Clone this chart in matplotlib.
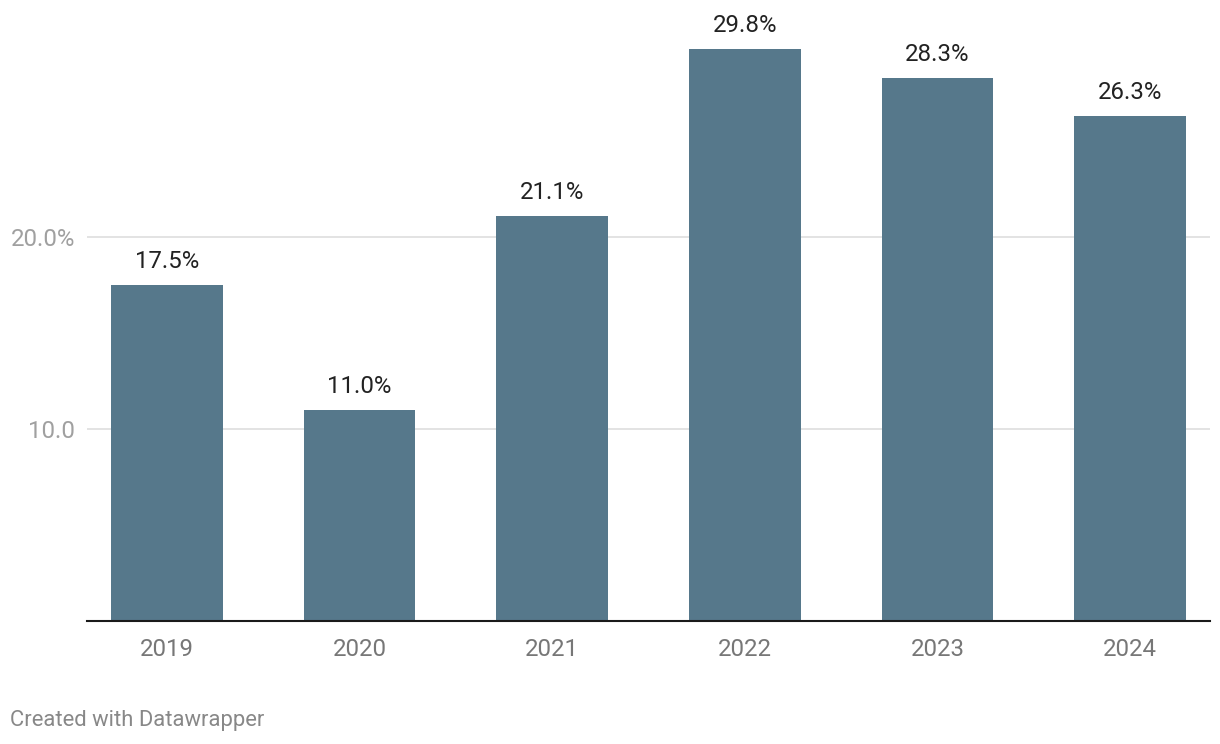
import matplotlib.pyplot as plt
import numpy as np

plt.rcParams['font.family'] = ['Roboto', 'DejaVu Sans']

years = ['2019', '2020', '2021', '2022', '2023', '2024']
values = [17.5, 11.0, 21.1, 29.8, 28.3, 26.3]
yticks = [10, 20]
ytick_labels = ['10.0', '20.0%']

fig = plt.figure(figsize=(12.2, 7.44), dpi=100)
# axes box in pixels: x 87..1210, y 6.6..621 (from top)
ax = fig.add_axes([87 / 1220, 123 / 744, (1210 - 87) / 1220, (621 - 6.6) / 744])

x = np.arange(len(years))
ax.bar(x, values, width=0.58, color='#56788b', zorder=2)

for xi, v in zip(x, values):
    ax.annotate(f'{v:.1f}%', (xi, v), xytext=(0, 12), textcoords='offset points',
                ha='center', va='baseline', fontsize=17.3, color='#222222')

ax.set_xlim(-0.415, len(years) - 1 + 0.415)
ax.set_ylim(0, 32)

ax.set_yticks(yticks)
ax.set_yticklabels(ytick_labels)
ax.set_xticks(x)
ax.set_xticklabels(years)
ax.tick_params(axis='y', length=0, pad=8.5, labelsize=17.3, labelcolor='#a0a0a0')
ax.tick_params(axis='x', length=0, pad=12.5, labelsize=17.3, labelcolor='#777777')
ax.yaxis.grid(True, color='#e3e3e3', linewidth=1.4, zorder=0)
ax.set_axisbelow(True)

for s in ['top', 'right', 'left']:
    ax.spines[s].set_visible(False)
ax.spines['bottom'].set_color('#1a1a1a')
ax.spines['bottom'].set_linewidth(1.5)
ax.spines['bottom'].set_zorder(3)

fig.text(10 / 1220, (744 - 726) / 744, 'Created with Datawrapper', fontsize=15.8,
         color='#888888', ha='left', va='baseline')

fig.savefig('out.png', dpi=100)
